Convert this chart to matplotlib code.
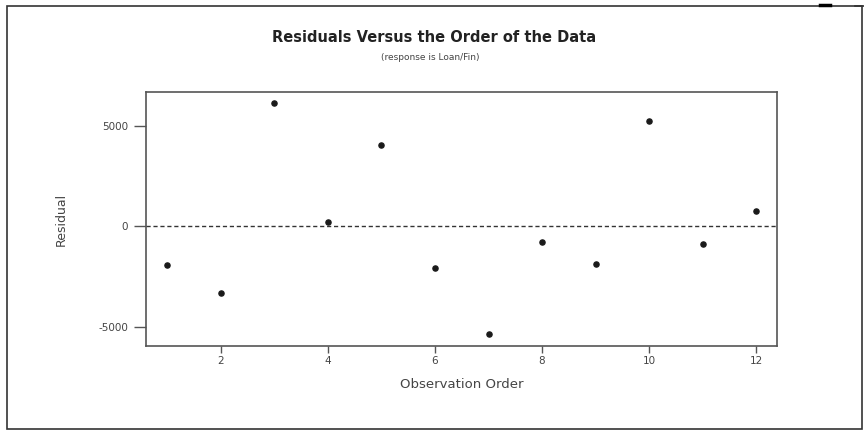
import matplotlib.pyplot as plt
from matplotlib.lines import Line2D
from matplotlib.patches import Rectangle

plt.rcParams['font.family'] = ['DejaVu Sans']
plt.rcParams['axes.unicode_minus'] = False

# Residuals in observation order
order = [1, 2, 3, 4, 5, 6, 7, 8, 9, 10, 11, 12]
residuals = [-1915, -3300, 6115, 235, 4035, -2065, -5380, -770, -1900, 5250, -900, 765]

x_ticks = [2, 4, 6, 8, 10, 12]
y_ticks = [-5000, 0, 5000]

fig = plt.figure(figsize=(8.64, 4.32), dpi=100)

# outer frame around the whole graph
fig.patches.append(Rectangle((7 / 864, 3 / 432), 855 / 864, 423 / 432,
                             transform=fig.transFigure, fill=False,
                             edgecolor='#333333', linewidth=1.2))
fig.add_artist(Line2D([855 / 864, 1.0], [426 / 432, 426 / 432],
                      transform=fig.transFigure, color='#333333', lw=1.2))
fig.add_artist(Line2D([820 / 864, 830 / 864], [427 / 432, 427 / 432],
                      transform=fig.transFigure, color='black', lw=2.5))

ax = fig.add_axes([146 / 864, 86 / 432, 631 / 864, 254 / 432])
ax.plot(order, residuals, 'o', color='#1a1a1a', markersize=3.7)
ax.axhline(0, color='#333333', linestyle=(0, (3, 2)), linewidth=1)

ax.set_xlim(0.6, 12.39)
ax.set_ylim(-5960, 6680)
ax.set_xticks(x_ticks)
ax.set_yticks(y_ticks)

for s in ax.spines.values():
    s.set_color('#555555')
    s.set_linewidth(1.2)

ax.tick_params(axis='x', direction='out', length=5, width=1, colors='#555555',
               labelcolor='#444444', labelsize=7.5, pad=2)
ax.tick_params(axis='y', direction='out', length=9, width=1, colors='#555555',
               labelcolor='#444444', labelsize=7.5, pad=4)

ax.set_xlabel('Observation Order', fontsize=9.5, color='#444444', labelpad=9)
ax.set_ylabel('Residual', fontsize=9, color='#444444', labelpad=22)

fig.text(0.502, 394 / 432, 'Residuals Versus the Order of the Data',
         ha='center', va='center', fontsize=10.5, fontweight='bold', color='#222222')
fig.text(0.498, 375 / 432, '(response is Loan/Fin)',
         ha='center', va='center', fontsize=6.5, color='#444444')

fig.savefig('out.png', dpi=100)
